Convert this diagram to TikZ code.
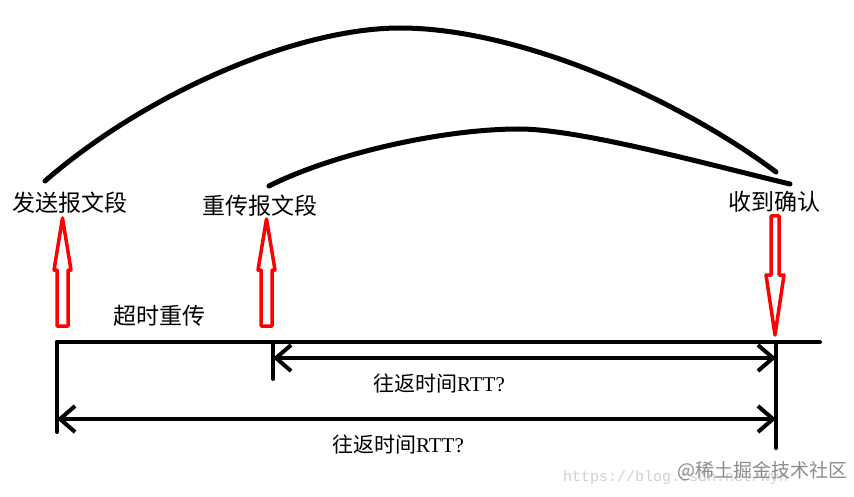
\documentclass[tikz,border=0pt]{standalone}
\usepackage{fontspec}
\setmainfont{Liberation Serif}
\newfontfamily\cjk{Noto Sans CJK SC}
\newfontfamily\monofnt{Liberation Mono}
\usetikzlibrary{arrows.meta}
\begin{document}
\begin{tikzpicture}[x=1pt,y=-1pt,
	tag/.style={font=\cjk\fontsize{23}{23}\selectfont,inner sep=0pt},
	rtttag/.style={font=\fontsize{21}{21}\selectfont,inner sep=0pt},
	timeline/.style={line width=4pt,line cap=round},
	arc/.style={line width=5pt,line cap=round},
	hollow/.style={red,line width=3.5pt,line join=round},
	measure/.style={timeline,{Straight Barb[length=15pt,width=26pt]}-{Straight Barb[length=15pt,width=26pt]}}]
	\useasboundingbox[fill=white] (0,0) rectangle (854,497);

	% labels
	\node[tag] (sendtag) at (70,203) {发送报文段};
	\node[tag] (resendtag) at (260,206) {重传报文段};
	\node[tag] (acktag) at (774,202) {收到确认};
	\node[tag] (timeouttag) at (159,316) {超时重传};

	% the two flights
	\draw[arc] (45,181) .. controls (150,90) and (300,28) .. (400,28)
		.. controls (520,28) and (680,100) .. (776,172);
	\draw[arc] (269,186) .. controls (330,155) and (440,129) .. (519,129)
		.. controls (580,129) and (710,165) .. (790,184);

	% hollow red arrows
	\foreach \cx/\tip in {62.5/218,266.5/219}
		\draw[hollow] (\cx-5.5,326) -- (\cx+5.5,326) -- (\cx+5.5,270) -- (\cx+8.5,270)
			-- (\cx,\tip) -- (\cx-8.5,270) -- (\cx-5.5,270) -- cycle;
	\draw[hollow] (771,216) -- (779,216) -- (779,275) -- (784,275)
		-- (775,335) -- (766,275) -- (771,275) -- cycle;

	% time line
	\coordinate (send) at (57,342);
	\coordinate (resend) at (273,342);
	\coordinate (ack) at (776,342);
	\coordinate (lineend) at (820,342);
	\draw[timeline] (send) -- (lineend);
	\draw[timeline] (send) -- (57,432);
	\draw[timeline] (resend) -- (273,379);
	\draw[timeline] (ack) -- (776,448);

	% round trip times
	\coordinate (shortl) at (273,358);
	\coordinate (shortr) at (776,358);
	\coordinate (longl) at (57,419);
	\coordinate (longr) at (776,419);
	\draw[measure] (shortl) -- (shortr);
	\draw[measure] (longl) -- (longr);
	\node[rtttag] (shortrtt) at (439,383) {{\cjk 往返时间}RTT?};
	\node[rtttag] (longrtt) at (398,444) {{\cjk 往返时间}RTT?};

	% watermark
	\node[font=\monofnt\fontsize{15}{15}\selectfont,text=black!18,inner sep=0pt,anchor=west]
		(url) at (563,478) {https://blog.csdn.net/wyh};
	\node[font=\cjk\fontsize{19}{19}\selectfont,text=black!45,inner sep=0pt,anchor=west]
		(mark) at (677,471) {@稀土掘金技术社区};
\end{tikzpicture}
\end{document}
